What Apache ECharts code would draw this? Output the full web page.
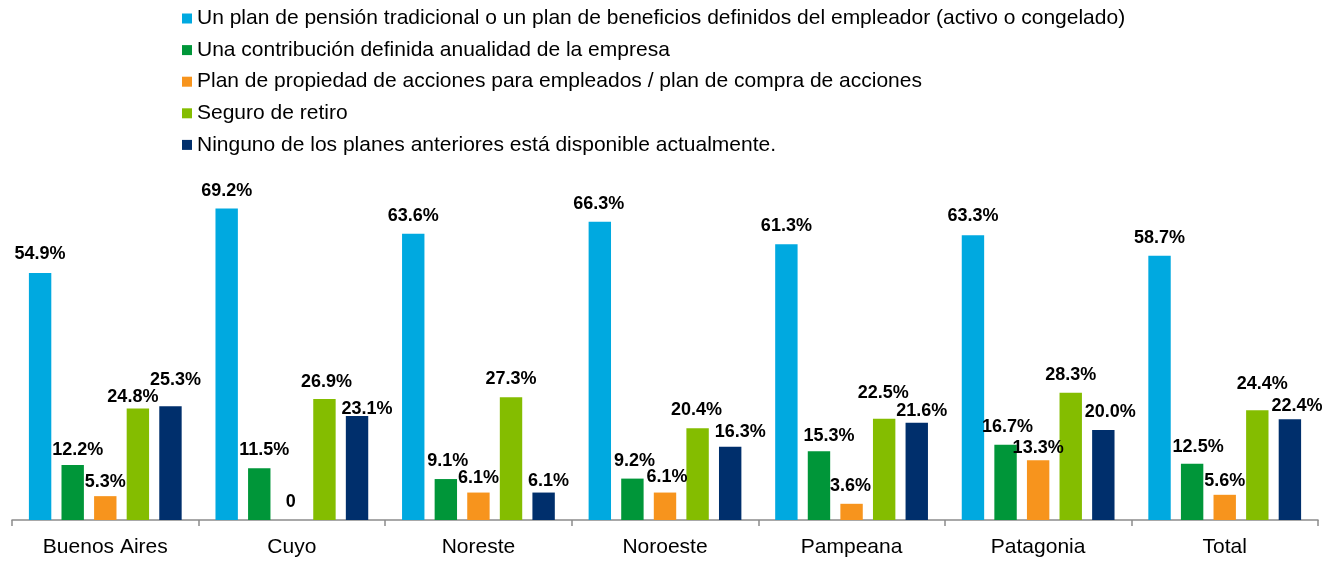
<!DOCTYPE html>
<html>
<head>
<meta charset="utf-8">
<script src="https://cdn.jsdelivr.net/npm/echarts@6/dist/echarts.min.js"></script>
<style>
html,body{margin:0;padding:0;background:#fff;}
#chart{width:1332px;height:561px;}
</style>
</head>
<body>
<div id="chart"></div>
<script>
const categories = ['Buenos Aires', 'Cuyo', 'Noreste', 'Noroeste', 'Pampeana', 'Patagonia', 'Total'];
const seriesNames = [
  'Un plan de pensión tradicional o un plan de beneficios definidos del empleador (activo o congelado)',
  'Una contribución definida anualidad de la empresa',
  'Plan de propiedad de acciones para empleados / plan de compra de acciones',
  'Seguro de retiro',
  'Ninguno de los planes anteriores está disponible actualmente.'
];
const pensionTradicional = [54.9, 69.2, 63.6, 66.3, 61.3, 63.3, 58.7];
const contribucionDefinida = [12.2, 11.5, 9.1, 9.2, 15.3, 16.7, 12.5];
const planAcciones = [5.3, 0, 6.1, 6.1, 3.6, 13.3, 5.6];
const seguroRetiro = [24.8, 26.9, 27.3, 20.4, 22.5, 28.3, 24.4];
const ninguno = [25.3, 23.1, 6.1, 16.3, 21.6, 20.0, 22.4];

const seriesValues = [pensionTradicional, contribucionDefinida, planAcciones, seguroRetiro, ninguno];
const colors = ['#00A9E0', '#009639', '#F7941D', '#84BD00', '#002F6C'];

// label nudges [dx, dy] per series, per category (styling only)
const labelNudges = [
  [[0,-1],[0,0],[0,0],[-1,0],[0,0],[0,-1],[0,0]],
  [[5,3],[5,0],[2,0],[2,0],[10,3],[2,0],[6,1]],
  [[0,4],[-1,0],[0,3],[2,2],[-1,0],[0,6],[0,4]],
  [[-5,7],[2,1],[0,0],[-1,0],[-1,-8],[0,0],[5,-8]],
  [[5,-8],[10,11],[5,6],[10,3],[5,6],[7,0],[7,5]]
];

const font = 'Arial, "Liberation Sans", sans-serif';

const series = seriesValues.map((vals, s) => ({
  name: seriesNames[s],
  type: 'bar',
  barWidth: 22.4,
  barGap: '45.5%',
  itemStyle: { color: colors[s] },
  data: vals.map((v, c) => ({
    value: v,
    label: { offset: labelNudges[s][c] }
  })),
  label: {
    show: true,
    position: 'top',
    distance: 9,
    color: '#000',
    fontWeight: 'bold',
    fontSize: 18,
    fontFamily: font,
    formatter: p => p.value === 0 ? '0' : p.value.toFixed(1) + '%'
  }
}));

const chart = echarts.init(document.getElementById('chart'));
chart.setOption({
  animation: false,
  color: colors,
  legend: {
    orient: 'vertical',
    left: 177,
    top: 3,
    itemWidth: 10,
    itemHeight: 10,
    itemGap: 10.6,
    icon: 'rect',
    textStyle: { fontSize: 21, color: '#000', fontFamily: font },
    data: seriesNames
  },
  grid: { left: 12, right: 14, top: 160, bottom: 41, containLabel: false },
  xAxis: {
    type: 'category',
    data: categories,
    axisLine: { lineStyle: { color: '#8c8c8c', width: 1.5 } },
    axisTick: { show: true, length: 6, lineStyle: { color: '#8c8c8c', width: 1.5 } },
    axisLabel: { fontSize: 21, color: '#000', fontFamily: font, margin: 17 }
  },
  yAxis: { type: 'value', min: 0, max: 80, show: false, splitLine: { show: false } },
  series: series
});
</script>
</body>
</html>
